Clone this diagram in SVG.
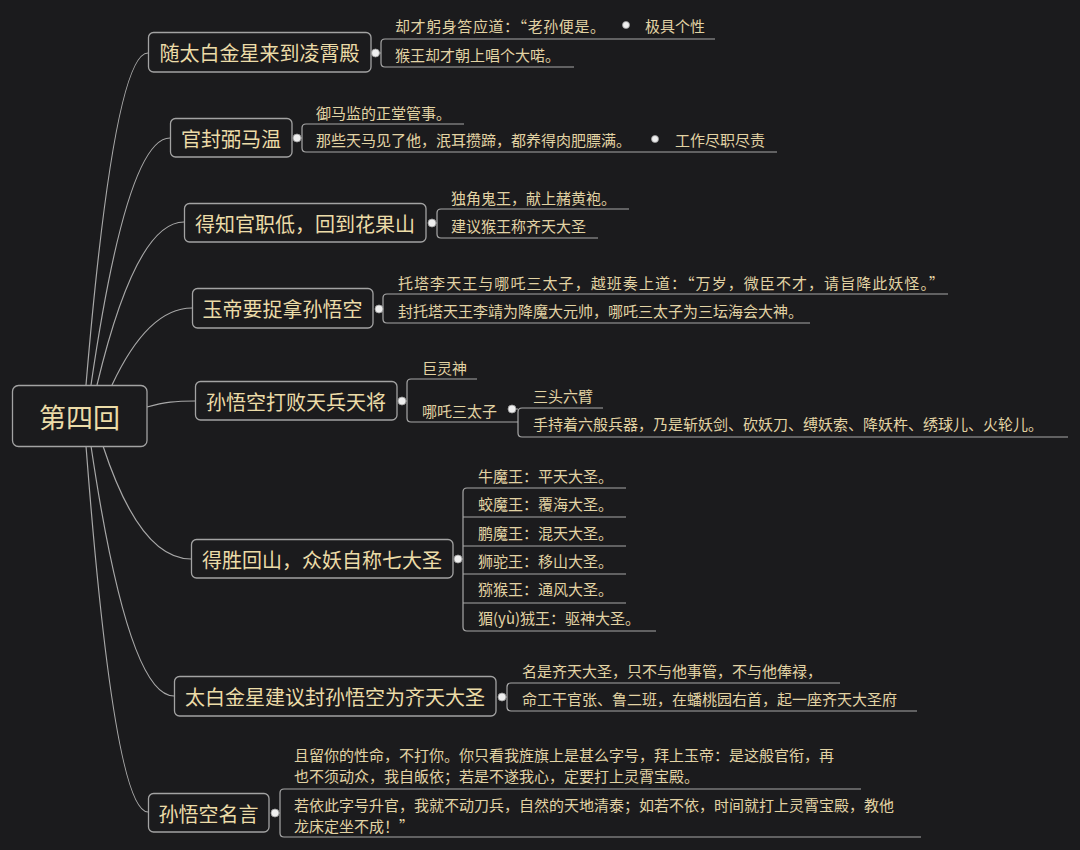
<svg xmlns="http://www.w3.org/2000/svg" width="1080" height="850" viewBox="0 0 1080 850">
<style>
.bg{fill:#1b1b1d}
.box{fill:#1b1b1d;stroke:#a3a3a3;stroke-width:1.3}
.t{font-family:"Noto Sans CJK SC","Microsoft YaHei",sans-serif;fill:#ecdca8;dominant-baseline:central}
.main{font-size:20px;text-anchor:middle}
.root{font-size:27px;text-anchor:middle}
.leaf{font-size:15px;fill:#e2d3a4}
.ln{fill:none;stroke:#a8a8a8;stroke-width:1.2}
.dot{fill:#efefef;stroke:#9a9a9a;stroke-width:0.8}
</style>
<rect class="bg" x="0" y="0" width="1080" height="850"/>
<g id="connectors">
<path class="ln" d="M86,385 Q114,53 148,53"/>
<path class="ln" d="M91,385 Q127,138 170,138"/>
<path class="ln" d="M97,385 Q136,222 184,222"/>
<path class="ln" d="M112,385 Q148,308 192,308"/>
<path class="ln" d="M147,407 C165,402 175,401 195,401"/>
<path class="ln" d="M103,446 Q140,559 191,559"/>
<path class="ln" d="M91,446 Q128,696 174,696"/>
<path class="ln" d="M86,446 Q114,812 148,812"/>
<path class="ln" d="M379,53 H381 M715,39 H385 Q381,39 381,43 V63 Q381,67 385,67 H574"/>
<path class="ln" d="M300,138 H302 M464,124 H306 Q302,124 302,128 V148 Q302,152 306,152 H777"/>
<path class="ln" d="M435,223 H437 M629,209 H441 Q437,209 437,213 V234 Q437,238 441,238 H598"/>
<path class="ln" d="M382,309 H383 M948,294 H387 Q383,294 383,298 V319 Q383,323 387,323 H810"/>
<path class="ln" d="M405,401 H407 M477,379 H411 Q407,379 407,383 V418 Q407,422 411,422 H518"/>
<path class="ln" d="M515,409 H518 M603,408 H522 Q518,408 518,412 V433 Q518,437 522,437 H1068"/>
<path class="ln" d="M461,559 H463 M626,488 H467 Q463,488 463,492 V627 Q463,631 467,631 H656 M463,517 H626 M463,546 H626 M463,574 H626 M463,603 H626"/>
<path class="ln" d="M505,697 H507 M840,683 H511 Q507,683 507,687 V707 Q507,711 511,711 H917"/>
<path class="ln" d="M278,813 H280 M861,789 H284 Q280,789 280,793 V833 Q280,837 284,837 H921"/>
</g>
<g id="root">
<rect class="box" x="12.5" y="385.5" width="134.5" height="61" rx="6"/>
<text class="t root" x="79.5" y="416">第四回</text>
</g>
<g id="b1">
<rect class="box" x="148.5" y="32.5" width="222.5" height="39.5" rx="5"/>
<text class="t main" x="259.5" y="52.5">随太白金星来到凌霄殿</text>
<circle class="dot" cx="375.5" cy="53" r="4"/>
<text class="t leaf" x="395" y="25" textLength="210" lengthAdjust="spacing">却才躬身答应道：“老孙便是。</text>
<circle class="dot" cx="626" cy="25" r="3.5"/>
<text class="t leaf" x="645" y="25">极具个性</text>
<text class="t leaf" x="395" y="54">猴王却才朝上唱个大喏。</text>
</g>
<g id="b2">
<rect class="box" x="170.5" y="118.5" width="121.5" height="38.5" rx="5"/>
<text class="t main" x="231" y="138">官封弼马温</text>
<circle class="dot" cx="297" cy="138" r="4"/>
<text class="t leaf" x="316" y="112">御马监的正堂管事。</text>
<text class="t leaf" x="316" y="139">那些天马见了他，泯耳攒蹄，都养得肉肥膘满。</text>
<circle class="dot" cx="655" cy="139" r="3.5"/>
<text class="t leaf" x="675" y="139">工作尽职尽责</text>
</g>
<g id="b3">
<rect class="box" x="184.5" y="203.5" width="241.5" height="38.5" rx="5"/>
<text class="t main" x="305" y="223">得知官职低，回到花果山</text>
<circle class="dot" cx="432" cy="223" r="4"/>
<text class="t leaf" x="451" y="197">独角鬼王，献上赭黄袍。</text>
<text class="t leaf" x="451" y="225">建议猴王称齐天大圣</text>
</g>
<g id="b4">
<rect class="box" x="192.5" y="288.5" width="180.5" height="39.5" rx="5"/>
<text class="t main" x="282.5" y="308.5">玉帝要捉拿孙悟空</text>
<circle class="dot" cx="379" cy="309" r="4"/>
<text class="t leaf" x="398" y="282" textLength="546" lengthAdjust="spacing">托塔李天王与哪吒三太子，越班奏上道：“万岁，微臣不才，请旨降此妖怪。”</text>
<text class="t leaf" x="398" y="310">封托塔天王李靖为降魔大元帅，哪吒三太子为三坛海会大神。</text>
</g>
<g id="b5">
<rect class="box" x="195.5" y="381.5" width="201.5" height="38.5" rx="5"/>
<text class="t main" x="296" y="401">孙悟空打败天兵天将</text>
<circle class="dot" cx="402" cy="401" r="4"/>
<text class="t leaf" x="422" y="367">巨灵神</text>
<text class="t leaf" x="422" y="410">哪吒三太子</text>
<circle class="dot" cx="512" cy="409" r="4"/>
<text class="t leaf" x="533" y="395">三头六臂</text>
<text class="t leaf" x="533" y="423">手持着六般兵器，乃是斩妖剑、砍妖刀、缚妖索、降妖杵、绣球儿、火轮儿。</text>
</g>
<g id="b6">
<rect class="box" x="191.5" y="539.5" width="261.5" height="38.5" rx="5"/>
<text class="t main" x="322" y="559">得胜回山，众妖自称七大圣</text>
<circle class="dot" cx="458" cy="559" r="4"/>
<text class="t leaf" x="478" y="475">牛魔王：平天大圣。</text>
<text class="t leaf" x="478" y="503">蛟魔王：覆海大圣。</text>
<text class="t leaf" x="478" y="532">鹏魔王：混天大圣。</text>
<text class="t leaf" x="478" y="560">狮驼王：移山大圣。</text>
<text class="t leaf" x="478" y="588">猕猴王：通风大圣。</text>
<text class="t leaf" x="478" y="617">猸(yù)狨王：驱神大圣。</text>
</g>
<g id="b7">
<rect class="box" x="174.5" y="676.5" width="321.5" height="39.5" rx="5"/>
<text class="t main" x="335" y="696.5">太白金星建议封孙悟空为齐天大圣</text>
<circle class="dot" cx="502" cy="697" r="4"/>
<text class="t leaf" x="522" y="670">名是齐天大圣，只不与他事管，不与他俸禄，</text>
<text class="t leaf" x="522" y="698">命工干官张、鲁二班，在蟠桃园右首，起一座齐天大圣府</text>
</g>
<g id="b8">
<rect class="box" x="148.5" y="793.5" width="120.5" height="38.5" rx="5"/>
<text class="t main" x="208.5" y="813">孙悟空名言</text>
<circle class="dot" cx="275" cy="813" r="4"/>
<text class="t leaf" x="294" y="754">且留你的性命，不打你。你只看我旌旗上是甚么字号，拜上玉帝：是这般官衔，再</text>
<text class="t leaf" x="294" y="775">也不须动众，我自皈依；若是不遂我心，定要打上灵霄宝殿。</text>
<text class="t leaf" x="294" y="804">若依此字号升官，我就不动刀兵，自然的天地清泰；如若不依，时间就打上灵霄宝殿，教他</text>
<text class="t leaf" x="294" y="825">龙床定坐不成！”</text>
</g>
</svg>
